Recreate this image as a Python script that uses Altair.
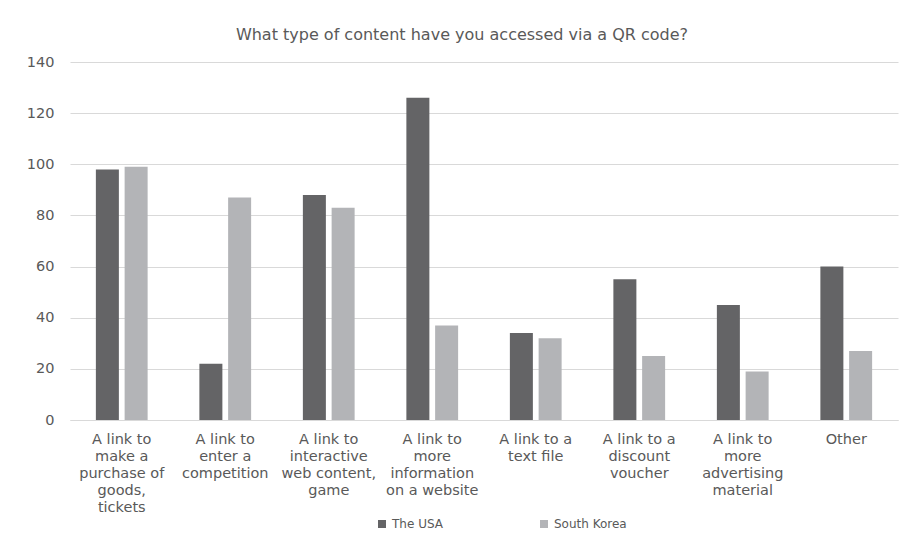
import altair as alt
import pandas as pd

categories = [
    "A link to|make a|purchase of|goods,|tickets",
    "A link to|enter a|competition",
    "A link to|interactive|web content,|game",
    "A link to|more|information|on a website",
    "A link to a|text file",
    "A link to a|discount|voucher",
    "A link to|more|advertising|material",
    "Other",
]
series = ["The USA", "South Korea"]
usa = [98, 22, 88, 126, 34, 55, 45, 60]
korea = [99, 87, 83, 37, 32, 25, 19, 27]
colors = ["#646466", "#b3b4b7"]

rows = []
for c, u, k in zip(categories, usa, korea):
    rows.append({"category": c, "series": series[0], "value": u})
    rows.append({"category": c, "series": series[1], "value": k})
df = pd.DataFrame(rows)

FONT = "DejaVu Sans"
TXT = "#595959"

chart = alt.Chart(df).mark_bar().encode(
    x=alt.X(
        "category:N",
        sort=categories,
        title=None,
        scale=alt.Scale(paddingInner=0.5, paddingOuter=0.25),
        axis=alt.Axis(
            labelAngle=0,
            ticks=False,
            domainColor="#d9d9d9",
            labelExpr="split(datum.label, '|')",
            labelFont=FONT,
            labelFontSize=14.5,
            labelColor=TXT,
            labelLineHeight=17,
            labelPadding=12,
            labelBaseline="top",
            labelLimit=200,
        ),
    ),
    xOffset=alt.XOffset("series:N", sort=series, scale=alt.Scale(paddingInner=0.2)),
    y=alt.Y(
        "value:Q",
        title=None,
        scale=alt.Scale(domain=[0, 140]),
        axis=alt.Axis(
            values=list(range(0, 141, 20)),
            ticks=False,
            domain=False,
            gridColor="#d9d9d9",
            labelFont=FONT,
            labelFontSize=14.5,
            labelColor=TXT,
            labelPadding=16,
        ),
    ),
    color=alt.Color(
        "series:N",
        sort=series,
        scale=alt.Scale(domain=series, range=colors),
        legend=alt.Legend(
            title=None,
            orient="none",
            direction="horizontal",
            legendX=306,
            legendY=456,
            symbolType="square",
            symbolSize=64,
            symbolStrokeWidth=0,
            labelFont=FONT,
            labelFontSize=12,
            labelColor=TXT,
            columnPadding=95,
        ),
    ),
).properties(
    width=828,
    height=358,
    title=alt.TitleParams(
        "What type of content have you accessed via a QR code?",
        font=FONT,
        fontSize=16,
        fontWeight="normal",
        color=TXT,
        offset=11,
        dx=-22,
    ),
    autosize=alt.AutoSizeParams(type="none"),
    padding={"left": 62, "top": 54, "right": 13, "bottom": 120},
).configure_view(stroke=None)

chart.save("out.html", embed_options={"renderer": "svg", "actions": False})
